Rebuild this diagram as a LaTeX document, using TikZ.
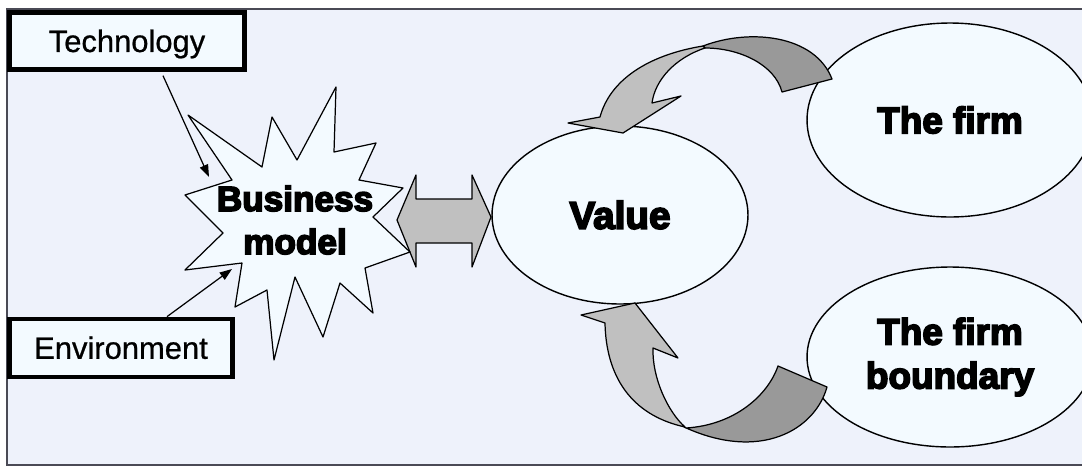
\documentclass[tikz,border=0pt]{standalone}
\usepackage{fontspec}
\setmainfont{Liberation Sans}
\newfontfamily\labelfont[FakeBold=0.7]{Liberation Sans}
\newfontfamily\heavyfont[FakeBold=4.5]{Liberation Sans Bold}
\usepackage{xcolor}
\definecolor{colBack}{HTML}{EEF2FB}
\definecolor{colFill}{HTML}{F3FAFF}
\definecolor{colFrame}{HTML}{4A4A55}
\definecolor{colLight}{HTML}{C0C0C0}
\definecolor{colDark}{HTML}{999999}
\usetikzlibrary{arrows.meta, positioning, shapes.geometric}
\tikzset{
    labelbox/.style={
        draw=black, fill=colFill,
        line width=2.5pt,
        inner sep=0pt,
        text height=12.5pt, text depth=0pt,
        font=\labelfont\fontsize{17.6}{20}\selectfont
    },
    bubble/.style={
        ellipse, draw=black, fill=colFill,
        line width=0.8pt,
        inner sep=0pt,
        align=center
    },
    thinarrow/.style={-{Triangle[length=7pt,width=5pt]}, line width=0.7pt},
    ribbon/.style={draw=black, line width=0.7pt, line join=round},
}

\begin{document}
\begin{tikzpicture}[x=0.02cm, y=-0.02cm]
    \useasboundingbox (0,0) rectangle (1082,467);
    \draw[fill=colBack, draw=colFrame, line width=0.8pt] (7,9) rectangle (1100,465);

    % outside influences
    \node[labelbox, minimum width=4.7cm, minimum height=1.14cm] (tech) at (127,41) {Technology};
    \node[labelbox, minimum width=4.46cm, minimum height=1.16cm,
          below=4.9cm of tech.south west, anchor=north west] (env) {Environment};

    % value and the two sides of the firm
    \node[bubble, minimum width=5.12cm, minimum height=3.56cm,
          text height=15.7pt, text depth=0pt,
          font=\heavyfont\fontsize{22}{26}\selectfont] (value) at (620,215) {Value};
    \node[bubble, minimum width=5.72cm, minimum height=3.88cm,
          text height=15pt, text depth=0pt,
          font=\heavyfont\fontsize{21}{25}\selectfont] (firm) at (950,120) {The firm};
    \node[bubble, minimum width=5.72cm, minimum height=3.6cm,
          font=\heavyfont\fontsize{21}{25}\selectfont] (bound) at (950,357) {The firm\\boundary};

    % curved arrow from the firm back to value
    \filldraw[ribbon, fill=colDark] (703,46) .. controls (750,28) and (815,35) .. (832,79)
        -- (782,92) .. controls (775,65) and (740,48) .. (705,48) -- cycle;
    \filldraw[ribbon, fill=colLight] (703,46) .. controls (648,55) and (610,80) .. (600,117)
        -- (568,123) -- (623,133) -- (681,96) -- (652,103)
        .. controls (655,80) and (675,58) .. (705,48) -- cycle;

    % curved arrow from the firm boundary up to value
    \filldraw[ribbon, fill=colDark] (684,427) .. controls (760,462) and (815,430) .. (827,387)
        -- (778,366) .. controls (768,395) and (735,425) .. (686,428) -- cycle;
    \filldraw[ribbon, fill=colLight] (605,323) .. controls (606,375) and (630,415) .. (685,427)
        .. controls (668,412) and (652,378) .. (653,348)
        -- (678,358) -- (635,303) -- (581,315) -- cycle;

    % two-way block arrow
    \filldraw[ribbon, fill=colLight] (397,220) -- (416,175) -- (416,199) -- (472,199)
        -- (472,175) -- (491,217) -- (472,267) -- (472,243) -- (416,243)
        -- (416,267) -- cycle;

    % business model burst
    \filldraw[ribbon, fill=colFill]
        (188,115) -- (262,167) -- (272,117) -- (297,160) -- (336,87) -- (334,152)
        -- (376,143) -- (359,180) -- (403,188) -- (373,217) -- (410,252) -- (365,268)
        -- (373,313) -- (340,283) -- (323,337) -- (295,277) -- (274,360) -- (267,290)
        -- (235,307) -- (242,263) -- (185,270) -- (223,233) -- (185,195) -- (232,180)
        -- cycle;
    \node[align=center, inner sep=0pt,
          font=\heavyfont\fontsize{20}{24.5}\selectfont] (bm) at (295,220) {Business\\model};

    \coordinate (bmT) at (209,177);
    \coordinate (bmE) at (232,269);
    \draw[thinarrow] ([xshift=0.72cm, yshift=-0.08cm]tech.south) -- (bmT);
    \draw[thinarrow] ([xshift=0.92cm]env.north) -- (bmE);
\end{tikzpicture}
\end{document}
